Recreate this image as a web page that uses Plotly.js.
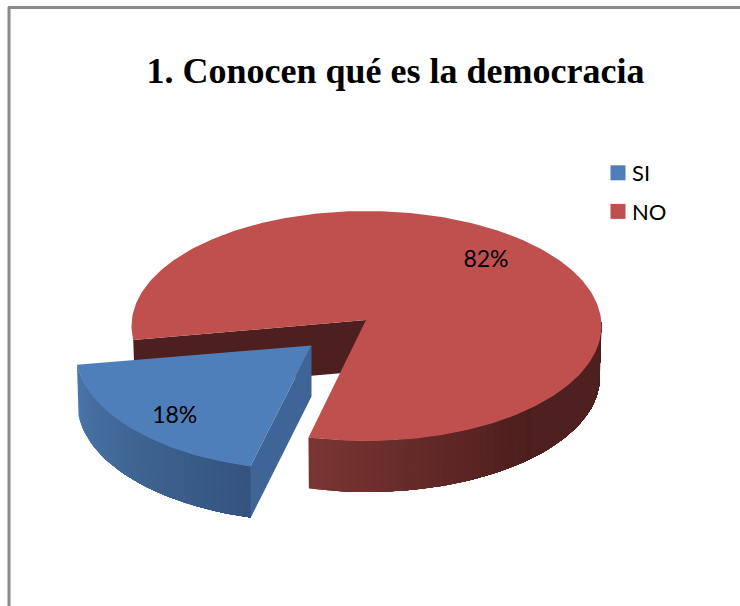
<!DOCTYPE html>
<html>
<head>
<meta charset="utf-8">
<script src="https://cdn.plot.ly/plotly-3.0.1.min.js"></script>
<style>html,body{margin:0;padding:0;background:#fff;overflow:hidden}</style>
</head>
<body>
<div id="chart" style="width:740px;height:606px"></div>
<script>
const chartTitle = '1. Conocen qué es la democracia';
const categories = ['SI', 'NO'];
const values = [18, 82];
const topColors = ['#4f7fba', '#bf504e'];

// Projected pie geometry, in the picture's pixel scale (axes below run 0-740 and 606-0)
const NO_SLICE = {cx: 366.5, cy: 326, rx: 235, ry: 115, ax: 366, ay: 320, depth: 51, start: 104.3};
const SI_SLICE = {cx: 311.5, cy: 351.5, rx: 236, ry: 119, ax: 311.5, ay: 345.5, depth: 51, start: 105};
const BOTTOM_SCALE = 0.993;
const WARP = 5;

const rad = d => d * Math.PI / 180;
const warp = (a, s) => a + WARP * Math.sin(rad(2 * (a - s)));
const onRim = (g, t, low) => {
  const k = low ? BOTTOM_SCALE : 1;
  return [g.cx + k * g.rx * Math.cos(rad(t)), g.cy + g.ry * Math.sin(rad(t)) + (low ? g.depth : 0)];
};
const steps = (a, b, n) => Array.from({length: n + 1}, (_, i) => a + (b - a) * i / n);
const mix = (c1, c2, f) => 'rgb(' + c1.map((v, i) => Math.round(v + (c2[i] - v) * f)).join(',') + ')';

const poly = (pts, color) => ({
  type: 'scatter', mode: 'lines', fill: 'toself', fillcolor: color,
  x: pts.map(p => p[0]), y: pts.map(p => p[1]),
  line: {color: color, width: 0}, hoverinfo: 'skip', showlegend: false
});

// Side wall drawn in painter's order: each band runs to the far end and the next paints over it, so no seams show
function wall(g, t1, t2, shade) {
  const out = [];
  const n = Math.ceil(Math.abs(t2 - t1) / 2);
  const ts = steps(t1, t2, n);
  for (let i = 0; i < n; i++) {
    const seg = steps(ts[i], t2, Math.max(2, n - i));
    const pts = seg.map(t => onRim(g, t, false)).concat(seg.slice().reverse().map(t => onRim(g, t, true)));
    out.push(poly(pts, shade((i + 0.5) / n)));
  }
  return out;
}
const topFace = (g, t1, t2, color) => {
  const n = Math.ceil(Math.abs(t2 - t1));
  return poly([[g.ax, g.ay]].concat(steps(t1, t2, n).map(t => onRim(g, t, false))).concat([[g.ax, g.ay]]), color);
};

const total = values[0] + values[1];
const siSweep = 360 * values[0] / total;

// NO slice
const noEnd = warp(NO_SLICE.start + siSweep, NO_SLICE.start);
const noEdge = onRim(NO_SLICE, noEnd, false);
const noEdgeLow = onRim(NO_SLICE, noEnd, true);
const noInner = poly([noEdge, [NO_SLICE.ax, NO_SLICE.ay], [NO_SLICE.ax, NO_SLICE.ay + NO_SLICE.depth], noEdgeLow, noEdge], '#4d1f1e');
const noWall = wall(NO_SLICE, NO_SLICE.start, -2, f => f < 0.55 ? mix([122, 53, 51], [75, 30, 28], f / 0.55) : 'rgb(78,32,31)');
const noTop = topFace(NO_SLICE, noEnd, NO_SLICE.start + 360, topColors[1]);

// SI slice (pulled out)
const siEnd = warp(SI_SLICE.start + siSweep, SI_SLICE.start);
const siA = onRim(SI_SLICE, SI_SLICE.start, false);
const siALow = onRim(SI_SLICE, SI_SLICE.start, true);
const siWall = wall(SI_SLICE, siEnd, SI_SLICE.start, f => mix([74, 118, 170], [52, 84, 126], f));
const siSide = poly([[SI_SLICE.ax, SI_SLICE.ay], siA, siALow, [SI_SLICE.ax, SI_SLICE.ay + SI_SLICE.depth], [SI_SLICE.ax, SI_SLICE.ay]], '#3f6596');
const siTop = topFace(SI_SLICE, SI_SLICE.start, siEnd, topColors[0]);

// Percent labels, from each slice's centre toward its rim
const labelAt = (g, t, r) => [g.cx + r * g.rx * Math.cos(rad(t)), g.cy + r * g.ry * Math.sin(rad(t))];
const siLabel = labelAt(SI_SLICE, 136, 0.80);
const noLabel = labelAt(NO_SLICE, -48, 0.76);
const pctLabels = {
  type: 'scatter', mode: 'text',
  x: [siLabel[0] - 1, noLabel[0]], y: [siLabel[1], noLabel[1]],
  text: values.map(v => v + '%'), textposition: 'middle center',
  textfont: {family: 'Lato, Carlito, sans-serif', size: 23, color: '#000'},
  hoverinfo: 'skip', showlegend: false
};

// Legend entries
const legendItems = categories.map((c, i) => ({
  type: 'scatter', mode: 'markers', name: c, legendgroup: c,
  x: [-50], y: [-50],
  marker: {symbol: 'square', size: 15, color: topColors[i]}, hoverinfo: 'skip'
}));

const traces = [noInner, ...noWall, noTop, ...siWall, siSide, siTop, pctLabels, ...legendItems];

const layout = {
  width: 740, height: 606,
  margin: {l: 0, r: 0, t: 0, b: 0},
  paper_bgcolor: '#fff', plot_bgcolor: '#fff',
  xaxis: {range: [0, 740], visible: false, fixedrange: true},
  yaxis: {range: [606, 0], visible: false, fixedrange: true},
  title: {
    text: chartTitle, x: 395.5 / 740, y: 1 - 70 / 606, xanchor: 'center', yanchor: 'middle',
    font: {family: 'Liberation Serif, serif', size: 36, color: '#000', weight: 700}
  },
  legend: {
    x: 598 / 740, y: 1 - 152 / 606, xanchor: 'left', yanchor: 'top',
    font: {family: 'Lato, Carlito, sans-serif', size: 22, color: '#000'},
    bgcolor: 'rgba(0,0,0,0)', tracegroupgap: 7, itemwidth: 30
  },
  shapes: [
    {type: 'line', xref: 'paper', yref: 'paper', x0: 9 / 740, x1: 9 / 740, y0: 0, y1: 1 - 7 / 606, line: {color: '#8a8a8a', width: 3}},
    {type: 'line', xref: 'paper', yref: 'paper', x0: 8 / 740, x1: 1, y0: 1 - 7.5 / 606, y1: 1 - 7.5 / 606, line: {color: '#8a8a8a', width: 3}}
  ]
};

Plotly.newPlot('chart', traces, layout, {displayModeBar: false, staticPlot: true}).then(() => {
  // Legend text sits closer to its swatch in the reference
  document.querySelectorAll('.legendtext').forEach(t => {
    t.setAttribute('x', parseFloat(t.getAttribute('x')) - 6);
  });
});
</script>
</body>
</html>
